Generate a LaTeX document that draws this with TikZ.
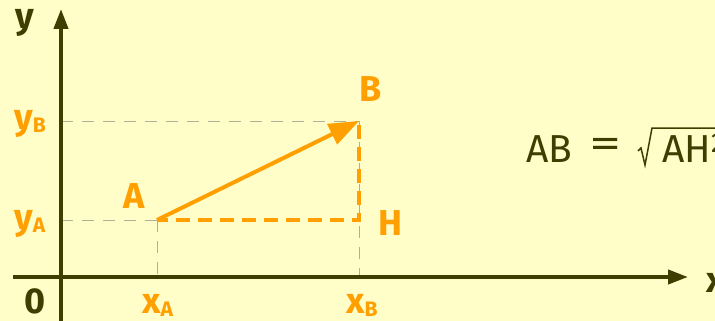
\documentclass[tikz,border=0pt]{standalone}
\usepackage{fontspec}
\setmainfont{Fira Sans}
\usetikzlibrary{arrows.meta}
\definecolor{bg}{HTML}{FFFDC8}
\definecolor{axisc}{HTML}{3F3D00}
\definecolor{orng}{HTML}{FFA000}
\definecolor{guide}{HTML}{B0B096}
\newcommand{\lbsub}[1]{\raisebox{-3pt}{\fontsize{21}{21}\selectfont #1}}
\tikzset{
  axisline/.style={draw=axisc, line width=4pt, -{Triangle[length=20pt,width=14pt]}},
  guideline/.style={draw=guide, line width=1pt, dash pattern=on 12pt off 9pt},
  orangeline/.style={draw=orng, line width=4pt},
  lbl/.style={inner sep=0pt, font=\fontsize{36}{36}\selectfont\bfseries},
  olbl/.style={lbl, text=orng},
  dlbl/.style={lbl, text=axisc},
  formula/.style={inner sep=0pt, text=axisc, font=\fontsize{39}{39}\selectfont},
}
\begin{document}
\begin{tikzpicture}[x=1pt,y=-1pt]
\useasboundingbox (0,0) rectangle (715,321);
\clip (0,0) rectangle (715,321);
\fill[bg] (0,0) rectangle (715,321);
% coordinates
\coordinate (O) at (61,277);
\coordinate (ybot) at (61,330);
\coordinate (ytop) at (61,9);
\coordinate (xleft) at (13,277);
\coordinate (xright) at (688,277);
\coordinate (A) at (157,220);
\coordinate (B) at (359,121);
\coordinate (H) at (359,220);
\coordinate (yA) at (61,220);
\coordinate (yB) at (61,121);
\coordinate (xA) at (157,277);
\coordinate (xB) at (359,277);
% guides
\draw[guideline] (yB) -- (B);
\draw[guideline] (yA) -- (A);
\draw[guideline] (A) -- (xA);
\draw[guideline] (B) -- (xB);
% axes
\draw[axisline] (ybot) -- (ytop);
\draw[axisline] (xleft) -- (xright);
% orange
\draw[orangeline, dash pattern=on 14pt off 8pt, dash phase=18pt] (B) -- (H) -- (A);
\draw[orangeline, -{Triangle[length=30pt,width=22pt]}] (A) -- (B);
% labels
\node[dlbl, anchor=base] (ylab) at (25,29) {y};
\node[dlbl, anchor=base west] (xlab) at (706,292) {x};
\node[dlbl, anchor=base] (zero) at (35,313) {0};
\node[olbl, anchor=base west] (yBlab) at (14,129) {y\lbsub{B}};
\node[olbl, anchor=base west] (yAlab) at (14,229) {y\lbsub{A}};
\node[olbl, anchor=base west] (xAlab) at (142,313) {x\lbsub{A}};
\node[olbl, anchor=base west] (xBlab) at (346,313) {x\lbsub{B}};
\node[olbl, anchor=base] (Alab) at (134,208) {A};
\node[olbl, anchor=base] (Blab) at (371,102) {B};
\node[olbl, anchor=base] (Hlab) at (390,235) {H};
% formula
\node[formula, anchor=base west] (AB) at (526,162) {AB};
\node[formula, anchor=center] (eq) at (605.5,148) {\scalebox{1.65}[1.05]{=}};
\draw[axisc, line width=1.5pt, line join=miter] (638,151) -- (641,148) -- (645,165) -- (652,128) -- (730,128);
\node[formula, anchor=base west] (AH) at (662,162) {AH\textsuperscript{2} + HB\textsuperscript{2}};
\end{tikzpicture}
\end{document}
